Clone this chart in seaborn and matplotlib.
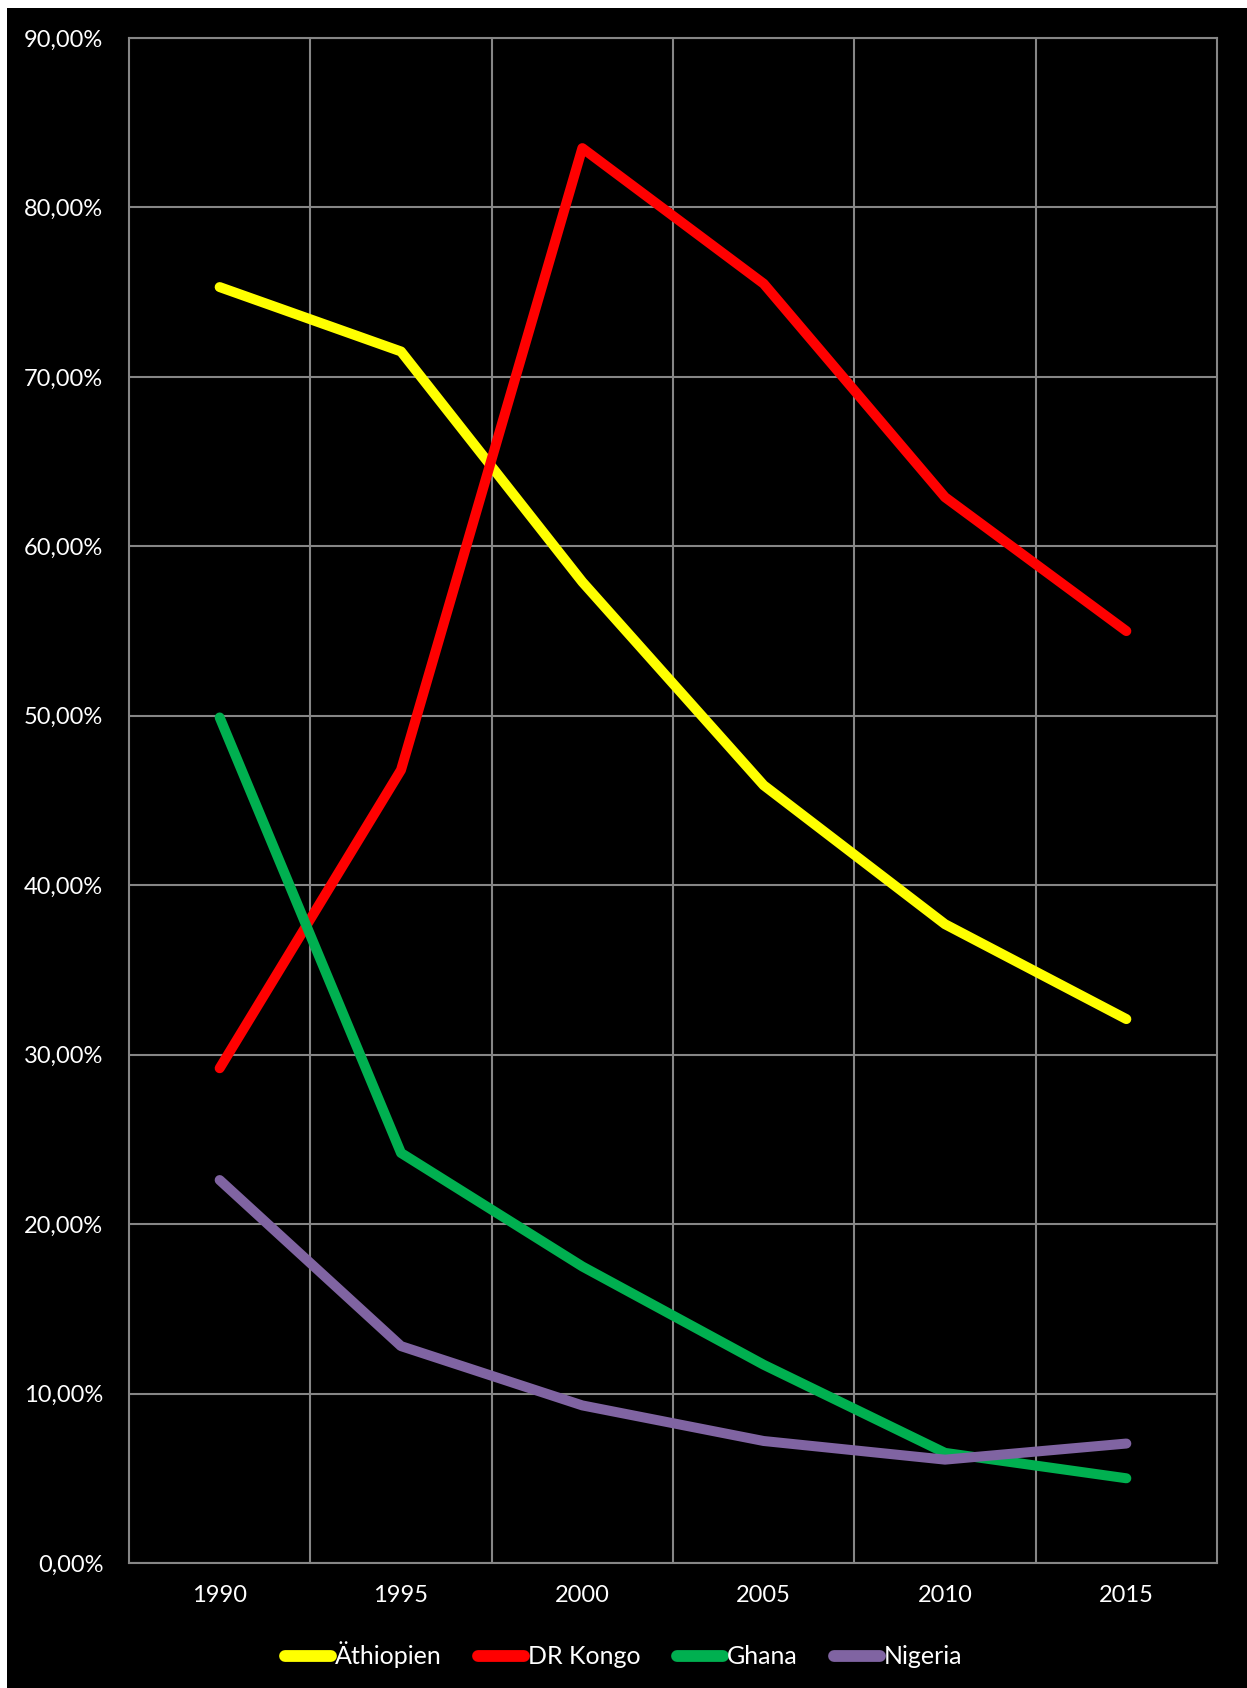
import matplotlib
matplotlib.use("Agg")
import matplotlib.pyplot as plt
import numpy as np
import pandas as pd
import seaborn as sns
from matplotlib.ticker import FuncFormatter, FixedLocator

years = [1990, 1995, 2000, 2005, 2010, 2015]
aethiopien = [75.3, 71.5, 57.9, 45.9, 37.7, 32.1]
dr_kongo = [29.2, 46.8, 83.5, 75.5, 62.9, 55.0]
ghana = [49.9, 24.2, 17.5, 11.7, 6.5, 5.0]
nigeria = [22.6, 12.8, 9.3, 7.2, 6.1, 7.05]

laender = ["Äthiopien", "DR Kongo", "Ghana", "Nigeria"]
farben = ["#FFFF00", "#FF0000", "#00B050", "#8064A2"]

df = pd.DataFrame({
    "Jahr": years * 4,
    "Wert": aethiopien + dr_kongo + ghana + nigeria,
    "Land": [l for l in laender for _ in years],
})

sns.set_style("dark")
plt.rcParams["font.family"] = ["Lato", "DejaVu Sans"]

fig = plt.figure(figsize=(12.47, 16.88), dpi=100, facecolor="white")
# schwarzer Diagrammbereich, dünner weißer Rand links/oben
fig.patches.append(plt.Rectangle((7 / 1247, 0), 1, 1 - 8 / 1688, transform=fig.transFigure,
                                 facecolor="black", edgecolor="none", zorder=-10))
ax = fig.add_axes([129 / 1247, 1 - 1563 / 1688, (1217 - 129) / 1247, (1563 - 38) / 1688])
ax.set_zorder(5)
ax.set_facecolor("black")

sns.lineplot(data=df, x="Jahr", y="Wert", hue="Land", palette=farben, linewidth=7.2,
             solid_capstyle="round", ax=ax, legend=True)

ax.set_xlim(1987.5, 2017.5)
ax.set_ylim(0, 90)
ax.set_xticks(years)
ax.xaxis.set_minor_locator(FixedLocator([1992.5, 1997.5, 2002.5, 2007.5, 2012.5]))
ax.set_yticks(np.arange(0, 91, 10))
ax.yaxis.set_major_formatter(FuncFormatter(lambda v, p: f"{v:.2f}%".replace(".", ",")))
ax.grid(False)
ax.grid(True, which="major", axis="y", color="#868686", linewidth=1.5)
ax.grid(True, which="minor", axis="x", color="#868686", linewidth=1.5)
for s in ["left", "right", "bottom", "top"]:
    ax.spines[s].set_visible(True)
    ax.spines[s].set_color("#868686")
    ax.spines[s].set_linewidth(1.5)
ax.tick_params(axis="both", which="both", length=0, colors="white", labelsize=17)
ax.tick_params(axis="y", pad=18.5)
ax.tick_params(axis="x", pad=16)
ax.set_xlabel("")
ax.set_ylabel("")

handles, labels = ax.get_legend_handles_labels()
ax.get_legend().remove()
leg = fig.legend(handles, labels, loc="center", bbox_to_anchor=(0.5, 1 - 1655 / 1688), ncol=4,
                 frameon=False, fontsize=18, handlelength=1.85, handletextpad=0.15,
                 columnspacing=1.45, labelcolor="white")
for h in leg.get_lines():
    h.set_linewidth(8.5)
    h.set_solid_capstyle("round")

fig.savefig("out.png", dpi=100, facecolor="white")
